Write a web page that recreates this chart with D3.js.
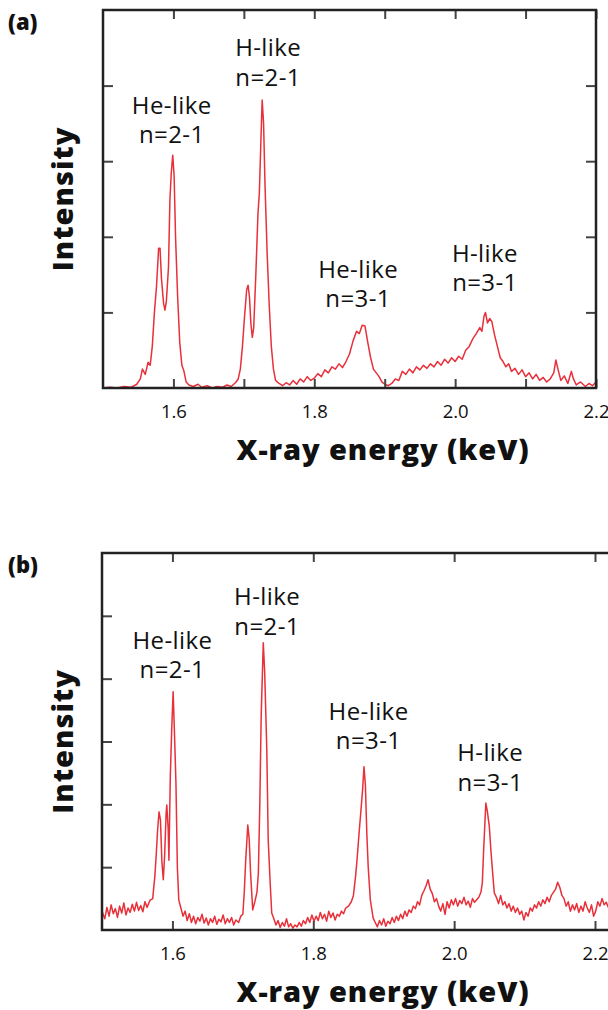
<!DOCTYPE html>
<html>
<head>
<meta charset="utf-8">
<script src="https://cdn.jsdelivr.net/npm/d3@7"></script>
<style>
  body { margin: 0; background: #fff; }
  svg { display: block; }
  text { font-family: "Open Sans", "Noto Sans", sans-serif; fill: #111; }
</style>
</head>
<body>
<div id="viz"></div>
<script>
// spectrum (a): [energy keV, intensity]
var spectrumA = [
  [1.500,0.00],[1.510,0.01],[1.520,0.00],[1.530,0.02],[1.540,0.01],[1.548,0.05],[1.553,0.12],[1.556,0.25],
  [1.560,0.18],[1.564,0.34],[1.567,0.30],[1.570,0.55],[1.573,1.00],[1.576,1.35],[1.579,1.85],[1.581,1.85],
  [1.583,1.45],[1.586,1.12],[1.588,1.03],[1.590,1.15],[1.593,1.60],[1.595,2.49],[1.597,2.85],[1.599,3.08],
  [1.601,2.80],[1.603,2.00],[1.606,1.20],[1.609,0.60],[1.612,0.30],[1.615,0.22],[1.618,0.08],[1.622,0.04],
  [1.628,0.02],[1.635,0.05],[1.640,0.01],[1.648,0.03],[1.655,0.00],[1.662,0.02],[1.670,0.01],[1.676,0.04],
  [1.682,0.02],[1.688,0.07],[1.692,0.12],[1.695,0.25],[1.698,0.55],[1.701,0.95],[1.704,1.30],[1.706,1.36],
  [1.708,1.20],[1.710,0.85],[1.712,0.67],[1.714,0.80],[1.717,1.50],[1.720,2.30],[1.722,2.58],[1.724,3.20],
  [1.726,3.81],[1.728,3.50],[1.730,2.70],[1.733,1.80],[1.736,1.10],[1.739,0.55],[1.742,0.25],[1.745,0.10],
  [1.750,0.06],[1.755,0.03],[1.760,0.07],[1.765,0.04],[1.770,0.10],[1.775,0.05],[1.780,0.12],[1.785,0.08],
  [1.790,0.15],[1.795,0.10],[1.800,0.13],[1.805,0.19],[1.810,0.15],[1.815,0.24],[1.820,0.20],[1.825,0.28],
  [1.830,0.25],[1.835,0.32],[1.840,0.27],[1.845,0.35],[1.850,0.45],[1.855,0.62],[1.860,0.75],[1.864,0.72],
  [1.868,0.83],[1.872,0.82],[1.876,0.60],[1.880,0.40],[1.884,0.25],[1.888,0.20],[1.892,0.15],[1.896,0.08],
  [1.900,0.05],[1.905,0.03],[1.910,0.06],[1.915,0.12],[1.920,0.10],[1.925,0.22],[1.930,0.18],[1.935,0.25],
  [1.940,0.20],[1.945,0.28],[1.950,0.24],[1.955,0.30],[1.960,0.26],[1.965,0.32],[1.970,0.28],[1.975,0.35],
  [1.980,0.30],[1.985,0.38],[1.990,0.33],[1.995,0.40],[2.000,0.35],[2.005,0.42],[2.010,0.38],[2.015,0.50],
  [2.020,0.55],[2.025,0.65],[2.030,0.72],[2.035,0.80],[2.038,0.75],[2.041,0.95],[2.043,1.00],[2.046,0.86],
  [2.049,0.92],[2.052,0.88],[2.056,0.70],[2.060,0.55],[2.064,0.40],[2.068,0.35],[2.072,0.28],[2.076,0.32],
  [2.080,0.22],[2.085,0.26],[2.090,0.18],[2.095,0.24],[2.100,0.15],[2.105,0.20],[2.110,0.12],[2.115,0.18],
  [2.120,0.10],[2.125,0.14],[2.130,0.08],[2.135,0.12],[2.140,0.20],[2.143,0.37],[2.146,0.25],[2.150,0.10],
  [2.155,0.16],[2.160,0.06],[2.165,0.22],[2.168,0.12],[2.172,0.04],[2.178,0.08],[2.185,0.02],[2.190,0.06],
  [2.195,0.03],[2.200,0.08]
];

// spectrum (b)
var spectrumB = [
  [1.500,0.30],[1.504,0.18],[1.507,0.36],[1.510,0.22],[1.513,0.40],[1.516,0.26],[1.519,0.34],[1.522,0.20],
  [1.525,0.38],[1.528,0.27],[1.531,0.43],[1.534,0.24],[1.537,0.35],[1.540,0.28],[1.543,0.41],[1.546,0.30],
  [1.549,0.44],[1.552,0.31],[1.555,0.39],[1.558,0.29],[1.561,0.45],[1.564,0.36],[1.568,0.47],[1.572,0.50],
  [1.575,0.85],[1.577,1.20],[1.579,1.60],[1.581,1.88],[1.583,1.75],[1.585,1.10],[1.587,0.80],[1.589,1.20],
  [1.591,1.85],[1.592,1.99],[1.594,1.60],[1.595,1.11],[1.597,2.44],[1.599,3.20],[1.601,3.79],[1.603,3.10],
  [1.605,2.34],[1.607,1.00],[1.609,0.48],[1.612,0.35],[1.615,0.22],[1.618,0.30],[1.621,0.15],[1.624,0.26],
  [1.627,0.12],[1.630,0.22],[1.633,0.10],[1.636,0.20],[1.639,0.14],[1.642,0.25],[1.645,0.11],[1.648,0.19],
  [1.651,0.08],[1.654,0.18],[1.657,0.12],[1.660,0.22],[1.663,0.09],[1.666,0.17],[1.669,0.13],[1.672,0.24],
  [1.675,0.10],[1.678,0.18],[1.681,0.12],[1.684,0.20],[1.687,0.08],[1.690,0.16],[1.694,0.12],[1.697,0.22],
  [1.700,0.25],[1.702,0.60],[1.704,1.10],[1.707,1.67],[1.709,1.45],[1.711,0.90],[1.714,0.32],[1.717,0.45],
  [1.720,0.60],[1.722,0.90],[1.724,1.96],[1.726,3.40],[1.729,4.57],[1.731,4.10],[1.734,2.87],[1.736,1.43],
  [1.739,0.70],[1.741,0.27],[1.744,0.18],[1.747,0.08],[1.750,0.15],[1.753,0.04],[1.756,0.12],[1.759,0.06],
  [1.762,0.18],[1.765,0.05],[1.768,0.10],[1.771,0.03],[1.774,0.08],[1.777,0.05],[1.780,0.12],[1.783,0.06],
  [1.786,0.15],[1.789,0.10],[1.792,0.20],[1.795,0.12],[1.798,0.24],[1.801,0.14],[1.804,0.22],[1.807,0.15],
  [1.810,0.28],[1.813,0.18],[1.816,0.25],[1.819,0.14],[1.822,0.30],[1.825,0.20],[1.828,0.27],[1.831,0.16],
  [1.834,0.25],[1.837,0.22],[1.840,0.30],[1.843,0.26],[1.846,0.35],[1.850,0.38],[1.854,0.45],[1.857,0.55],
  [1.860,0.85],[1.862,1.10],[1.865,1.54],[1.868,1.95],[1.870,2.23],[1.872,2.60],[1.874,2.30],[1.876,1.54],
  [1.878,1.00],[1.881,0.48],[1.885,0.19],[1.888,0.12],[1.891,0.05],[1.894,0.15],[1.897,0.08],[1.900,0.18],
  [1.903,0.06],[1.906,0.14],[1.909,0.10],[1.912,0.20],[1.915,0.12],[1.918,0.22],[1.921,0.15],[1.924,0.25],
  [1.927,0.18],[1.930,0.30],[1.933,0.22],[1.936,0.32],[1.939,0.28],[1.942,0.38],[1.945,0.34],[1.948,0.45],
  [1.951,0.40],[1.954,0.55],[1.957,0.62],[1.960,0.70],[1.963,0.80],[1.966,0.65],[1.969,0.58],[1.972,0.45],
  [1.975,0.50],[1.978,0.38],[1.981,0.30],[1.984,0.42],[1.987,0.25],[1.990,0.45],[1.993,0.35],[1.996,0.48],
  [1.999,0.40],[2.002,0.50],[2.005,0.38],[2.008,0.47],[2.011,0.42],[2.014,0.52],[2.017,0.40],[2.020,0.46],
  [2.023,0.36],[2.026,0.50],[2.029,0.44],[2.032,0.48],[2.035,0.52],[2.038,0.60],[2.040,0.75],[2.042,1.30],
  [2.043,1.54],[2.045,2.02],[2.047,1.90],[2.050,1.64],[2.052,1.30],[2.054,1.00],[2.057,0.59],[2.060,0.52],
  [2.063,0.42],[2.066,0.55],[2.069,0.40],[2.072,0.45],[2.075,0.35],[2.078,0.42],[2.081,0.30],[2.084,0.38],
  [2.087,0.28],[2.090,0.35],[2.093,0.25],[2.096,0.30],[2.099,0.16],[2.102,0.28],[2.105,0.22],[2.108,0.35],
  [2.111,0.30],[2.114,0.40],[2.117,0.35],[2.120,0.45],[2.123,0.38],[2.126,0.48],[2.129,0.42],[2.132,0.52],
  [2.135,0.45],[2.138,0.55],[2.141,0.60],[2.144,0.65],[2.147,0.76],[2.150,0.68],[2.153,0.55],[2.156,0.50],
  [2.159,0.38],[2.162,0.45],[2.165,0.30],[2.168,0.40],[2.171,0.32],[2.174,0.42],[2.177,0.28],[2.180,0.38],
  [2.183,0.30],[2.186,0.45],[2.189,0.35],[2.192,0.28],[2.195,0.40],[2.198,0.22],[2.201,0.30],[2.204,0.45],
  [2.207,0.38],[2.210,0.50],[2.213,0.40],[2.216,0.44],[2.219,0.36],[2.222,0.40]
];

var xTickLabels = [1.6, 1.8, 2.0, 2.2];
var xMinorTicksA = [1.6, 1.7, 1.8, 1.9, 2.0, 2.1, 2.2];
var yTicksA = [1, 2, 3, 4];
var yTicksB = [1, 2, 3, 4, 5];

// line labels: [line1, line2, energy position of label centre]
var labelsA = [["He-like", "n=2-1", 1.5976], ["H-like", "n=2-1", 1.7345], ["He-like", "n=3-1", 1.8622], ["H-like", "n=3-1", 2.0423]];
var labelsB = [["He-like", "n=2-1", 1.6], ["H-like", "n=2-1", 1.7344], ["He-like", "n=3-1", 1.8785], ["H-like", "n=3-1", 2.0512]];

var panels = [
  {tag: "(a)", data: spectrumA, left: 103, right: 596, frameRight: 596, top: 10, bottom: 388, yMax: 5,
   topTicks: xMinorTicksA, yTicks: yTicksA, rightTicks: true, labels: labelsA,
   labelY: [[114, 143], [56, 86], [278, 307], [262, 291]]},
  {tag: "(b)", data: spectrumB, left: 102, right: 595, frameRight: 614, top: 553, bottom: 930, yMax: 6,
   topTicks: xTickLabels, yTicks: yTicksB, rightTicks: false, labels: labelsB,
   labelY: [[649, 678], [605, 635], [720, 749], [761, 791]]}
];

var W = 608, H = 1010;
var svg = d3.select("#viz").append("svg").attr("width", W).attr("height", H);

panels.forEach(function(p, i) {
  var x = d3.scaleLinear().domain([1.5, 2.2]).range([p.left, p.right]);
  var y = d3.scaleLinear().domain([0, p.yMax]).range([p.bottom, p.top]);
  var g = svg.append("g");

  var clipId = "clip" + i;
  svg.append("clipPath").attr("id", clipId).append("rect")
    .attr("x", p.left).attr("y", p.top)
    .attr("width", p.frameRight - p.left).attr("height", p.bottom - p.top);

  // spectrum
  var line = d3.line().x(d => x(d[0])).y(d => y(d[1]));
  g.append("path")
    .datum(p.data)
    .attr("clip-path", "url(#" + clipId + ")")
    .attr("fill", "none")
    .attr("stroke", "#e8303a")
    .attr("stroke-width", 1.5)
    .attr("stroke-linejoin", "round")
    .attr("d", line);

  // inward ticks
  var tickStyle = function(sel) {
    sel.select(".domain").remove();
    sel.selectAll(".tick line").attr("stroke", "#444").attr("stroke-width", 2);
  };
  g.append("g").attr("transform", "translate(0," + p.top + ")")
    .call(d3.axisTop(x).tickValues(p.topTicks).tickSizeInner(-9).tickSizeOuter(0).tickFormat(""))
    .call(tickStyle);
  g.append("g").attr("transform", "translate(0," + p.bottom + ")")
    .call(d3.axisBottom(x).tickValues(p.topTicks).tickSizeInner(-9).tickSizeOuter(0).tickFormat(""))
    .call(tickStyle);
  g.append("g").attr("transform", "translate(" + p.left + ",0)")
    .call(d3.axisLeft(y).tickValues(p.yTicks).tickSizeInner(-10).tickSizeOuter(0).tickFormat(""))
    .call(tickStyle);
  if (p.rightTicks) {
    g.append("g").attr("transform", "translate(" + p.frameRight + ",0)")
      .call(d3.axisRight(y).tickValues(p.yTicks).tickSizeInner(-10).tickSizeOuter(0).tickFormat(""))
      .call(tickStyle);
  }

  // tick labels
  var lab = g.append("g").attr("transform", "translate(0," + p.bottom + ")")
    .call(d3.axisBottom(x).tickValues(xTickLabels).tickSize(0).tickPadding(17).tickFormat(d3.format(".1f")));
  lab.select(".domain").remove();
  lab.selectAll("text").attr("font-size", 18.5).attr("fill", "#111")
    .attr("font-family", "'Open Sans', sans-serif");

  // frame
  g.append("rect")
    .attr("x", p.left).attr("y", p.top)
    .attr("width", p.frameRight - p.left).attr("height", p.bottom - p.top)
    .attr("fill", "none").attr("stroke", "#222").attr("stroke-width", 2.5);

  // axis titles
  g.append("text")
    .attr("x", 383).attr("y", p.bottom + 72)
    .attr("text-anchor", "middle")
    .attr("font-size", 29).attr("font-weight", 800).attr("letter-spacing", 0.9)
    .text("X-ray energy (keV)");
  g.append("text")
    .attr("transform", "translate(73," + (p.top + p.bottom) / 2 + ") rotate(-90)")
    .attr("text-anchor", "middle")
    .attr("font-size", 29).attr("font-weight", 800).attr("letter-spacing", 1)
    .text("Intensity");
  g.append("text")
    .attr("x", 8).attr("y", p.top + 20)
    .attr("font-size", 22).attr("font-weight", 800)
    .text(p.tag);

  // peak labels
  p.labels.forEach(function(l, k) {
    var t = g.append("text").attr("text-anchor", "middle").attr("font-size", 24).attr("letter-spacing", 0.4);
    t.append("tspan").attr("x", x(l[2])).attr("y", p.labelY[k][0]).text(l[0]);
    t.append("tspan").attr("x", x(l[2])).attr("y", p.labelY[k][1]).text(l[1]);
  });
});
</script>
</body>
</html>
